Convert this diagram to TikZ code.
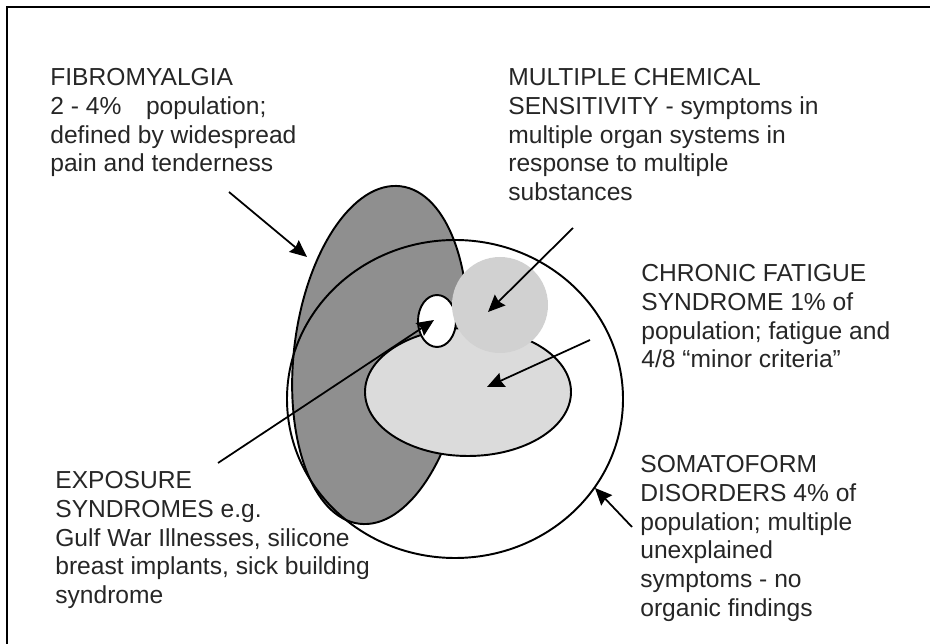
\documentclass[tikz,border=0pt]{standalone}
\usepackage{fontspec}
\setmainfont{Liberation Sans}
\usetikzlibrary{arrows.meta}

\definecolor{fibrogray}{gray}{0.56}
\definecolor{mcsgray}{gray}{0.82}
\definecolor{cfsgray}{gray}{0.86}

\begin{document}
\begin{tikzpicture}[x=0.02cm,y=-0.02cm,
  note/.style={anchor=north west,align=left,inner sep=0pt,text=black!85,
    font=\fontsize{14}{16.4}\selectfont},
  pointer/.style={-{Stealth[length=3.4mm,width=3mm,inset=.4mm]},line width=1pt},
  outline/.style={line width=1.1pt}]
\useasboundingbox (0,0) rectangle (930,644);
% frame, only top and left edges show
\draw[line width=1.1pt] (7,644) -- (7,7) -- (930,7);

% the overlapping sets
\filldraw[fill=fibrogray,outline,rotate around={-7:(380,355)}]
  (380,355) ellipse [x radius=86,y radius=170];
\draw[outline] (455,399) ellipse [x radius=168,y radius=159];
\filldraw[fill=cfsgray,outline] (468,392) ellipse [x radius=103,y radius=64];
\filldraw[fill=white,outline] (437,321) ellipse [x radius=19,y radius=26];
\fill[mcsgray] (500,305) circle [radius=48];

% labels
\node[note] (fibro) at (50,68) {FIBROMYALGIA\\2 - 4\%\quad population;\\
  defined by widespread\\pain and tenderness};
\node[note] (mcs) at (508,68) {MULTIPLE CHEMICAL\\SENSITIVITY - symptoms in\\
  multiple organ systems in\\response to multiple\\substances};
\node[note] (cfs) at (641,264) {CHRONIC FATIGUE\\SYNDROME 1\% of\\
  population; fatigue and\\4/8 “minor criteria”};
\node[note] (somato) at (640,455) {SOMATOFORM\\DISORDERS 4\% of\\
  population; multiple\\unexplained\\symptoms - no\\organic findings};
\node[note] (expo) at (55,471) {EXPOSURE\\SYNDROMES e.g.\\
  Gulf War Illnesses, silicone\\breast implants, sick building\\syndrome};

% arrow ends
\coordinate (fibro-tail) at (229,192);
\coordinate (fibro-tip) at (307,257);
\coordinate (mcs-tail) at (573,228);
\coordinate (mcs-tip) at (488,312);
\coordinate (cfs-tail) at (590,340);
\coordinate (cfs-tip) at (487,387);
\coordinate (expo-tail) at (218,463);
\coordinate (expo-tip) at (434,320);
\coordinate (somato-tail) at (632,527);
\coordinate (somato-tip) at (595,488);

\draw[pointer] (fibro-tail) -- (fibro-tip);
\draw[pointer] (mcs-tail) -- (mcs-tip);
\draw[pointer] (cfs-tail) -- (cfs-tip);
\draw[pointer] (expo-tail) -- (expo-tip);
\draw[pointer] (somato-tail) -- (somato-tip);
\end{tikzpicture}
\end{document}
